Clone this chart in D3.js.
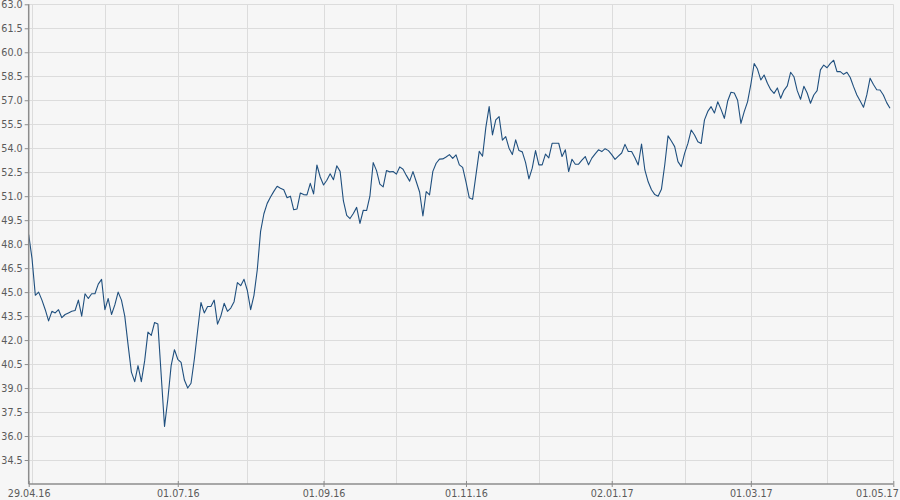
<!DOCTYPE html>
<html>
<head>
<meta charset="utf-8">
<script src="https://cdn.jsdelivr.net/npm/d3@7/dist/d3.min.js"></script>
<style>
  html, body { margin: 0; padding: 0; background: #f6f6f6; }
  svg { display: block; }
  text { font-family: "DejaVu Sans", Verdana, sans-serif; }
</style>
</head>
<body>
<svg id="chart" width="900" height="500"></svg>
<script>
// ---- data ----
const startDate = "2016-04-29";           // first trading day (weekday series)
const endDate = "2017-05-01";             // end of x domain
const values = [
  48.6, 47.1, 44.8, 45.0, 44.5, 43.9, 43.2, 43.8, 43.7, 43.9,
  43.4, 43.6, 43.7, 43.8, 43.85, 44.5, 43.5, 44.9, 44.6, 44.9,
  44.9, 45.5, 45.8, 43.9, 44.6, 43.6, 44.2, 45.0, 44.5, 43.5,
  41.7, 40.0, 39.4, 40.4, 39.4, 40.7, 42.5, 42.3, 43.1, 43.0,
  39.8, 36.6, 38.3, 40.4, 41.4, 40.8, 40.6, 39.5, 39.0, 39.3,
  40.8, 42.6, 44.35, 43.7, 44.1, 44.1, 44.5, 43.0, 43.5, 44.3,
  43.8, 44.0, 44.4, 45.6, 45.4, 45.8, 45.1, 43.9, 44.8, 46.4,
  48.8, 49.9, 50.55, 50.95, 51.3, 51.62, 51.5, 51.4, 50.9, 51.0,
  50.15, 50.2, 51.2, 51.1, 51.08, 51.8, 51.14, 52.95, 52.2, 51.7,
  52.0, 52.4, 52.03, 52.9, 52.55, 50.7, 49.8, 49.6, 49.92, 50.3,
  49.3, 50.12, 50.1, 51.0, 53.1, 52.6, 51.75, 51.58, 52.6, 52.52,
  52.54, 52.38, 52.83, 52.68, 52.3, 51.94, 52.54, 51.9, 51.26, 49.76,
  51.29, 51.08, 52.55, 53.06, 53.32, 53.33, 53.45, 53.6, 53.36, 53.58,
  52.96, 52.8, 51.9, 50.9, 50.8, 52.3, 53.8, 53.5, 55.3, 56.6,
  54.83, 55.77, 55.98, 54.5, 54.73, 54.0, 53.6, 54.52, 53.85, 53.77,
  53.1, 52.08, 52.75, 53.85, 52.96, 52.96, 53.63, 53.4, 54.31, 54.31,
  54.31, 53.48, 53.9, 52.54, 53.31, 53.0, 53.0, 53.25, 53.48, 52.96,
  53.38, 53.65, 53.9, 53.79, 53.97, 53.85, 53.6, 53.3, 53.5, 53.7,
  54.24, 53.79, 53.79, 53.4, 52.95, 54.26, 52.64, 51.9, 51.4, 51.1,
  51.0, 51.43, 52.95, 54.77, 54.45, 54.1, 53.16, 52.85, 53.68, 54.3,
  55.14, 54.83, 54.41, 54.3, 55.77, 56.3, 56.6, 56.2, 56.9, 56.43,
  55.87, 56.95, 57.5, 57.45, 57.0, 55.55, 56.29, 56.9, 58.0, 59.3,
  58.95, 58.27, 58.58, 58.06, 57.66, 57.43, 57.77, 57.12, 57.62, 57.9,
  58.75, 58.47, 57.6, 57.06, 57.87, 57.45, 56.81, 57.33, 57.6, 58.9,
  59.2, 59.03, 59.31, 59.5, 58.79, 58.79, 58.62, 58.75, 58.42, 57.85,
  57.33, 56.95, 56.56, 57.33, 58.38, 57.98, 57.66, 57.64, 57.33, 56.85,
  56.5
];
const xTickLabels = ["29.04.16", "01.07.16", "01.09.16", "01.11.16", "02.01.17", "01.03.17", "01.05.17"];
const yTicks = [34.5, 36.0, 37.5, 39.0, 40.5, 42.0, 43.5, 45.0, 46.5, 48.0, 49.5, 51.0, 52.5, 54.0, 55.5, 57.0, 58.5, 60.0, 61.5, 63.0];
const yDomain = [33, 63];

(function () {
  // ---- build weekday calendar ----
  const parseISO = d3.timeParse("%Y-%m-%d");
  const parseLbl = d3.timeParse("%d.%m.%y");
  const fmtKey = d3.timeFormat("%Y-%m-%d");
  const days = d3.timeDays(parseISO(startDate), d3.timeDay.offset(parseISO(endDate), 1))
    .filter(d => d.getDay() !== 0 && d.getDay() !== 6);
  const idxOf = new Map(days.map((d, i) => [fmtKey(d), i]));
  const data = values.map((v, i) => ({ i, date: days[i], v }));

  // month gridlines: first weekday of each month
  const monthIdx = [];
  days.forEach((d, i) => {
    if (i === 0 || d.getMonth() !== days[i - 1].getMonth()) monthIdx.push(i);
  });
  const tickIdx = xTickLabels.map(l => idxOf.get(fmtKey(parseLbl(l))));

  // ---- layout ----
  const svg = d3.select("#chart");
  const W = 900, H = 500;
  const mLeft = 28.7, mRight = 893.3, mTop = 4.3, mBottom = 484;

  const x = d3.scaleLinear().domain([0, days.length - 1]).range([mLeft, mRight]);
  const y = d3.scaleLinear().domain(yDomain).range([mBottom, mTop]);

  svg.append("rect").attr("width", W).attr("height", H).attr("fill", "#f6f6f6");

  // grid
  const grid = svg.append("g");
  grid.selectAll("line.h").data(yTicks).join("line")
    .attr("x1", mLeft).attr("x2", mRight)
    .attr("y1", d => Math.round(y(d)) + 0.5).attr("y2", d => Math.round(y(d)) + 0.5)
    .attr("stroke", "#dcdcdc").attr("stroke-width", 1);
  grid.selectAll("line.v").data(monthIdx.filter(i => i > 0)).join("line")
    .attr("x1", d => Math.round(x(d)) + 0.5).attr("x2", d => Math.round(x(d)) + 0.5)
    .attr("y1", mTop).attr("y2", mBottom)
    .attr("stroke", "#dcdcdc").attr("stroke-width", 1);

  // line
  svg.append("path").datum(data)
    .attr("fill", "none")
    .attr("stroke", "#1f4f7e")
    .attr("stroke-width", 1.1)
    .attr("stroke-linejoin", "round")
    .attr("d", d3.line().x(d => x(d.i)).y(d => y(d.v)));

  // y axis
  const yAxis = svg.append("g")
    .attr("transform", `translate(${mLeft},0)`)
    .call(d3.axisLeft(y).tickValues(yTicks).tickFormat(d3.format(".1f")).tickSize(4).tickPadding(2));
  yAxis.select(".domain").attr("stroke", "#8c8c8c").attr("stroke-width", 1.5)
    .attr("d", `M0,${mTop}V${mBottom}`);
  yAxis.selectAll(".tick line").attr("stroke", "#8c8c8c");
  yAxis.selectAll(".tick text").attr("fill", "#5a5a5a").style("font-size", "9.6px");

  // x axis
  const xAxis = svg.append("g")
    .attr("transform", `translate(0,${mBottom})`)
    .call(d3.axisBottom(x).tickValues(tickIdx).tickFormat((d, k) => xTickLabels[k]).tickSize(3).tickPadding(3));
  xAxis.select(".domain").attr("stroke", "#8c8c8c").attr("stroke-width", 1.5)
    .attr("d", `M${mLeft},0H${mRight}`);
  xAxis.selectAll(".tick line").attr("stroke", "#8c8c8c").attr("y1", -3);
  xAxis.selectAll(".tick text").attr("fill", "#5a5a5a").style("font-size", "9.6px");
  xAxis.selectAll(".tick text").filter((d, k) => k === xTickLabels.length - 1)
    .attr("text-anchor", "end").attr("dx", 5);
})();
</script>
</body>
</html>
